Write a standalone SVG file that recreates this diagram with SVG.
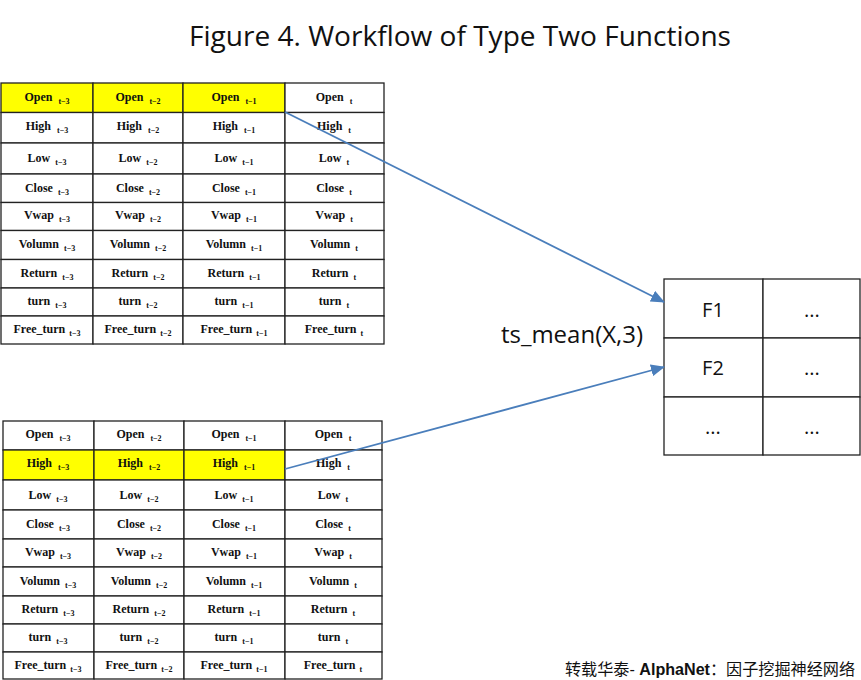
<svg xmlns="http://www.w3.org/2000/svg" width="861" height="680" viewBox="0 0 861 680">
<style>
.c{fill:#ffffff;stroke:#222;stroke-width:1.3}
.y{fill:#ffff00;stroke:#222;stroke-width:1.3}
.t{font-family:"Liberation Serif","DejaVu Serif",serif;font-weight:bold;font-size:12px;fill:#111;text-anchor:middle}
.s{font-size:8px}
.r{font-family:"Open Sans","Liberation Sans",sans-serif;font-size:20px;fill:#111;text-anchor:middle}
.a{fill:none;stroke:#4a7ebb;stroke-width:1.8}
</style>
<defs>
<marker id="ah2" markerWidth="14" markerHeight="12" refX="13" refY="6" orient="auto" markerUnits="userSpaceOnUse" viewBox="0 0 14 12">
<path d="M0,0 L14,6 L0,12 z" fill="#4a7ebb"/>
</marker>
</defs>
<rect width="861" height="680" fill="#fff"/>
<text x="460" y="46" font-family="'Open Sans','Liberation Sans',sans-serif" font-size="27" fill="#111" text-anchor="middle" textLength="542" lengthAdjust="spacingAndGlyphs">Figure 4. Workflow of Type Two Functions</text>

<g id="table-top">
<rect class="y" x="1" y="83" width="92" height="29.5"/><rect class="y" x="93" y="83" width="90" height="29.5"/><rect class="y" x="183" y="83" width="102" height="29.5"/><rect class="c" x="285" y="83" width="99" height="29.5"/>
<rect class="c" x="1" y="112.5" width="92" height="30.5"/><rect class="c" x="93" y="112.5" width="90" height="30.5"/><rect class="c" x="183" y="112.5" width="102" height="30.5"/><rect class="c" x="285" y="112.5" width="99" height="30.5"/>
<rect class="c" x="1" y="143" width="92" height="31"/><rect class="c" x="93" y="143" width="90" height="31"/><rect class="c" x="183" y="143" width="102" height="31"/><rect class="c" x="285" y="143" width="99" height="31"/>
<rect class="c" x="1" y="174" width="92" height="28.5"/><rect class="c" x="93" y="174" width="90" height="28.5"/><rect class="c" x="183" y="174" width="102" height="28.5"/><rect class="c" x="285" y="174" width="99" height="28.5"/>
<rect class="c" x="1" y="202.5" width="92" height="28"/><rect class="c" x="93" y="202.5" width="90" height="28"/><rect class="c" x="183" y="202.5" width="102" height="28"/><rect class="c" x="285" y="202.5" width="99" height="28"/>
<rect class="c" x="1" y="230.5" width="92" height="29"/><rect class="c" x="93" y="230.5" width="90" height="29"/><rect class="c" x="183" y="230.5" width="102" height="29"/><rect class="c" x="285" y="230.5" width="99" height="29"/>
<rect class="c" x="1" y="259.5" width="92" height="28.5"/><rect class="c" x="93" y="259.5" width="90" height="28.5"/><rect class="c" x="183" y="259.5" width="102" height="28.5"/><rect class="c" x="285" y="259.5" width="99" height="28.5"/>
<rect class="c" x="1" y="288" width="92" height="28"/><rect class="c" x="93" y="288" width="90" height="28"/><rect class="c" x="183" y="288" width="102" height="28"/><rect class="c" x="285" y="288" width="99" height="28"/>
<rect class="c" x="1" y="316" width="92" height="28"/><rect class="c" x="93" y="316" width="90" height="28"/><rect class="c" x="183" y="316" width="102" height="28"/><rect class="c" x="285" y="316" width="99" height="28"/>

<text class="t" x="47" y="101">Open<tspan class="s" dx="6" dy="3">t−3</tspan></text>
<text class="t" x="138" y="101">Open<tspan class="s" dx="6" dy="3">t−2</tspan></text>
<text class="t" x="234" y="101">Open<tspan class="s" dx="6" dy="3">t−1</tspan></text>
<text class="t" x="334" y="101">Open<tspan class="s" dx="6" dy="3">t</tspan></text>

<text class="t" x="47" y="130">High<tspan class="s" dx="6" dy="3">t−3</tspan></text>
<text class="t" x="138" y="130">High<tspan class="s" dx="6" dy="3">t−2</tspan></text>
<text class="t" x="234" y="130">High<tspan class="s" dx="6" dy="3">t−1</tspan></text>
<text class="t" x="334" y="130">High<tspan class="s" dx="6" dy="3">t</tspan></text>

<text class="t" x="47" y="162">Low<tspan class="s" dx="5" dy="3">t−3</tspan></text>
<text class="t" x="138" y="162">Low<tspan class="s" dx="5" dy="3">t−2</tspan></text>
<text class="t" x="234" y="162">Low<tspan class="s" dx="5" dy="3">t−1</tspan></text>
<text class="t" x="334" y="162">Low<tspan class="s" dx="5" dy="3">t</tspan></text>

<text class="t" x="47" y="192">Close<tspan class="s" dx="5" dy="3">t−3</tspan></text>
<text class="t" x="138" y="192">Close<tspan class="s" dx="5" dy="3">t−2</tspan></text>
<text class="t" x="234" y="192">Close<tspan class="s" dx="5" dy="3">t−1</tspan></text>
<text class="t" x="334" y="192">Close<tspan class="s" dx="5" dy="3">t</tspan></text>

<text class="t" x="47" y="219">Vwap<tspan class="s" dx="5" dy="3">t−3</tspan></text>
<text class="t" x="138" y="219">Vwap<tspan class="s" dx="5" dy="3">t−2</tspan></text>
<text class="t" x="234" y="219">Vwap<tspan class="s" dx="5" dy="3">t−1</tspan></text>
<text class="t" x="334" y="219">Vwap<tspan class="s" dx="5" dy="3">t</tspan></text>

<text class="t" x="47" y="248">Volumn<tspan class="s" dx="5" dy="3">t−3</tspan></text>
<text class="t" x="138" y="248">Volumn<tspan class="s" dx="5" dy="3">t−2</tspan></text>
<text class="t" x="234" y="248">Volumn<tspan class="s" dx="5" dy="3">t−1</tspan></text>
<text class="t" x="334" y="248">Volumn<tspan class="s" dx="5" dy="3">t</tspan></text>

<text class="t" x="47" y="277">Return<tspan class="s" dx="5" dy="3">t−3</tspan></text>
<text class="t" x="138" y="277">Return<tspan class="s" dx="5" dy="3">t−2</tspan></text>
<text class="t" x="234" y="277">Return<tspan class="s" dx="5" dy="3">t−1</tspan></text>
<text class="t" x="334" y="277">Return<tspan class="s" dx="5" dy="3">t</tspan></text>

<text class="t" x="47" y="305">turn<tspan class="s" dx="5" dy="3">t−3</tspan></text>
<text class="t" x="138" y="305">turn<tspan class="s" dx="5" dy="3">t−2</tspan></text>
<text class="t" x="234" y="305">turn<tspan class="s" dx="5" dy="3">t−1</tspan></text>
<text class="t" x="334" y="305">turn<tspan class="s" dx="5" dy="3">t</tspan></text>

<text class="t" x="47" y="333">Free_turn<tspan class="s" dx="4" dy="3">t−3</tspan></text>
<text class="t" x="138" y="333">Free_turn<tspan class="s" dx="4" dy="3">t−2</tspan></text>
<text class="t" x="234" y="333">Free_turn<tspan class="s" dx="4" dy="3">t−1</tspan></text>
<text class="t" x="334" y="333">Free_turn<tspan class="s" dx="4" dy="3">t</tspan></text>
</g>

<g id="table-bottom">
<rect class="c" x="3" y="421" width="91" height="29"/><rect class="c" x="94" y="421" width="90" height="29"/><rect class="c" x="184" y="421" width="101" height="29"/><rect class="c" x="285" y="421" width="97" height="29"/>
<rect class="y" x="3" y="450" width="91" height="30"/><rect class="y" x="94" y="450" width="90" height="30"/><rect class="y" x="184" y="450" width="101" height="30"/><rect class="c" x="285" y="450" width="97" height="30"/>
<rect class="c" x="3" y="480" width="91" height="30"/><rect class="c" x="94" y="480" width="90" height="30"/><rect class="c" x="184" y="480" width="101" height="30"/><rect class="c" x="285" y="480" width="97" height="30"/>
<rect class="c" x="3" y="510" width="91" height="29"/><rect class="c" x="94" y="510" width="90" height="29"/><rect class="c" x="184" y="510" width="101" height="29"/><rect class="c" x="285" y="510" width="97" height="29"/>
<rect class="c" x="3" y="539" width="91" height="28"/><rect class="c" x="94" y="539" width="90" height="28"/><rect class="c" x="184" y="539" width="101" height="28"/><rect class="c" x="285" y="539" width="97" height="28"/>
<rect class="c" x="3" y="567" width="91" height="29"/><rect class="c" x="94" y="567" width="90" height="29"/><rect class="c" x="184" y="567" width="101" height="29"/><rect class="c" x="285" y="567" width="97" height="29"/>
<rect class="c" x="3" y="596" width="91" height="28"/><rect class="c" x="94" y="596" width="90" height="28"/><rect class="c" x="184" y="596" width="101" height="28"/><rect class="c" x="285" y="596" width="97" height="28"/>
<rect class="c" x="3" y="624" width="91" height="28"/><rect class="c" x="94" y="624" width="90" height="28"/><rect class="c" x="184" y="624" width="101" height="28"/><rect class="c" x="285" y="624" width="97" height="28"/>
<rect class="c" x="3" y="652" width="91" height="27"/><rect class="c" x="94" y="652" width="90" height="27"/><rect class="c" x="184" y="652" width="101" height="27"/><rect class="c" x="285" y="652" width="97" height="27"/>

<text class="t" x="48" y="438">Open<tspan class="s" dx="6" dy="3">t−3</tspan></text>
<text class="t" x="139" y="438">Open<tspan class="s" dx="6" dy="3">t−2</tspan></text>
<text class="t" x="234" y="438">Open<tspan class="s" dx="6" dy="3">t−1</tspan></text>
<text class="t" x="333" y="438">Open<tspan class="s" dx="6" dy="3">t</tspan></text>

<text class="t" x="48" y="467">High<tspan class="s" dx="6" dy="3">t−3</tspan></text>
<text class="t" x="139" y="467">High<tspan class="s" dx="6" dy="3">t−2</tspan></text>
<text class="t" x="234" y="467">High<tspan class="s" dx="6" dy="3">t−1</tspan></text>
<text class="t" x="333" y="467">High<tspan class="s" dx="6" dy="3">t</tspan></text>

<text class="t" x="48" y="499">Low<tspan class="s" dx="5" dy="3">t−3</tspan></text>
<text class="t" x="139" y="499">Low<tspan class="s" dx="5" dy="3">t−2</tspan></text>
<text class="t" x="234" y="499">Low<tspan class="s" dx="5" dy="3">t−1</tspan></text>
<text class="t" x="333" y="499">Low<tspan class="s" dx="5" dy="3">t</tspan></text>

<text class="t" x="48" y="528">Close<tspan class="s" dx="5" dy="3">t−3</tspan></text>
<text class="t" x="139" y="528">Close<tspan class="s" dx="5" dy="3">t−2</tspan></text>
<text class="t" x="234" y="528">Close<tspan class="s" dx="5" dy="3">t−1</tspan></text>
<text class="t" x="333" y="528">Close<tspan class="s" dx="5" dy="3">t</tspan></text>

<text class="t" x="48" y="556">Vwap<tspan class="s" dx="5" dy="3">t−3</tspan></text>
<text class="t" x="139" y="556">Vwap<tspan class="s" dx="5" dy="3">t−2</tspan></text>
<text class="t" x="234" y="556">Vwap<tspan class="s" dx="5" dy="3">t−1</tspan></text>
<text class="t" x="333" y="556">Vwap<tspan class="s" dx="5" dy="3">t</tspan></text>

<text class="t" x="48" y="585">Volumn<tspan class="s" dx="5" dy="3">t−3</tspan></text>
<text class="t" x="139" y="585">Volumn<tspan class="s" dx="5" dy="3">t−2</tspan></text>
<text class="t" x="234" y="585">Volumn<tspan class="s" dx="5" dy="3">t−1</tspan></text>
<text class="t" x="333" y="585">Volumn<tspan class="s" dx="5" dy="3">t</tspan></text>

<text class="t" x="48" y="613">Return<tspan class="s" dx="5" dy="3">t−3</tspan></text>
<text class="t" x="139" y="613">Return<tspan class="s" dx="5" dy="3">t−2</tspan></text>
<text class="t" x="234" y="613">Return<tspan class="s" dx="5" dy="3">t−1</tspan></text>
<text class="t" x="333" y="613">Return<tspan class="s" dx="5" dy="3">t</tspan></text>

<text class="t" x="48" y="641">turn<tspan class="s" dx="5" dy="3">t−3</tspan></text>
<text class="t" x="139" y="641">turn<tspan class="s" dx="5" dy="3">t−2</tspan></text>
<text class="t" x="234" y="641">turn<tspan class="s" dx="5" dy="3">t−1</tspan></text>
<text class="t" x="333" y="641">turn<tspan class="s" dx="5" dy="3">t</tspan></text>

<text class="t" x="48" y="669">Free_turn<tspan class="s" dx="4" dy="3">t−3</tspan></text>
<text class="t" x="139" y="669">Free_turn<tspan class="s" dx="4" dy="3">t−2</tspan></text>
<text class="t" x="234" y="669">Free_turn<tspan class="s" dx="4" dy="3">t−1</tspan></text>
<text class="t" x="333" y="669">Free_turn<tspan class="s" dx="4" dy="3">t</tspan></text>
</g>

<g id="table-result">
<rect class="c" x="664" y="279" width="99" height="59"/><rect class="c" x="763" y="279" width="97" height="59"/>
<rect class="c" x="664" y="338" width="99" height="59"/><rect class="c" x="763" y="338" width="97" height="59"/>
<rect class="c" x="664" y="397" width="99" height="58"/><rect class="c" x="763" y="397" width="97" height="58"/>
<text class="r" x="713" y="317">F1</text><text class="r" x="812" y="317">...</text>
<text class="r" x="713" y="375">F2</text><text class="r" x="812" y="375">...</text>
<text class="r" x="713" y="434">...</text><text class="r" x="812" y="434">...</text>
</g>

<g id="connectors">
<line class="a" x1="285" y1="112" x2="664" y2="302" marker-end="url(#ah2)"/>
<line class="a" x1="285" y1="469" x2="664" y2="367" marker-end="url(#ah2)"/>
</g>

<text x="572" y="343" font-family="'Open Sans','Liberation Sans',sans-serif" font-size="24" fill="#111" text-anchor="middle">ts_mean(X,3)</text>

<text x="565" y="675" font-family="'Liberation Sans','Noto Sans CJK SC',sans-serif" font-size="16" fill="#111" textLength="290" lengthAdjust="spacingAndGlyphs">转载华泰- <tspan font-weight="bold">AlphaNet</tspan>：因子挖掘神经网络</text>
</svg>
